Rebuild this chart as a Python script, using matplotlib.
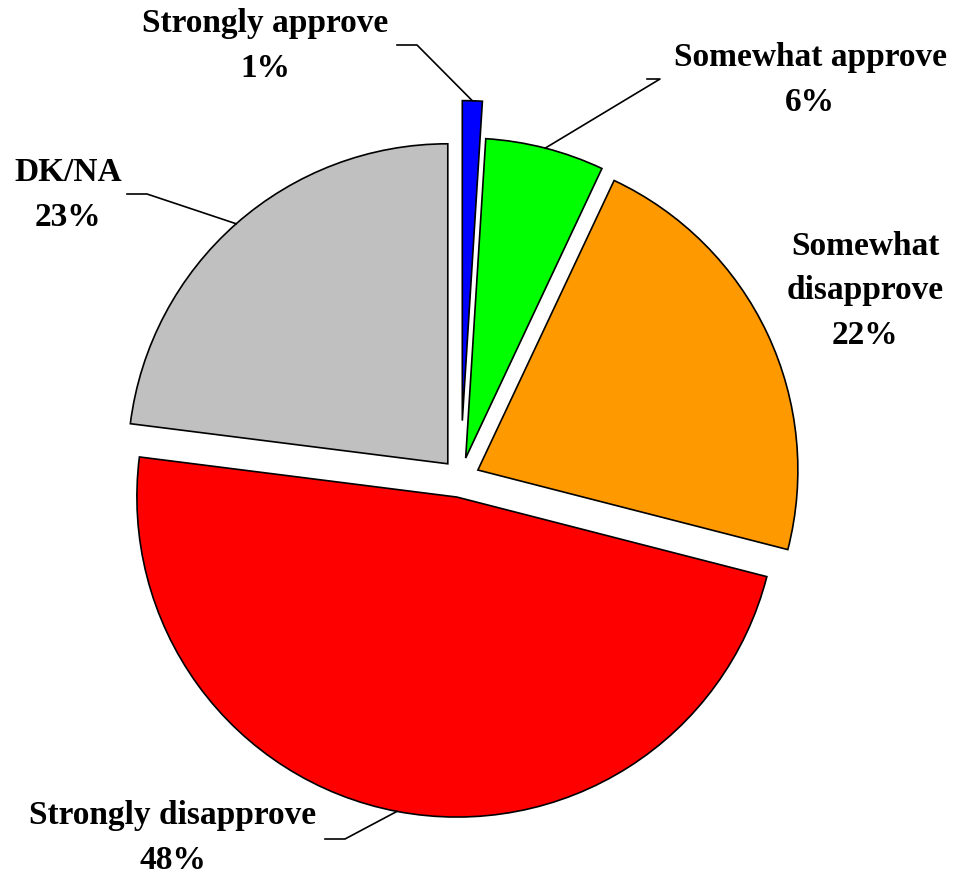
import numpy as np
import matplotlib
matplotlib.use('Agg')
import matplotlib.pyplot as plt

# Данные
categories = ['Strongly approve', 'Somewhat approve', 'Somewhat\ndisapprove',
              'Strongly disapprove', 'DK/NA']
values = [1, 6, 22, 48, 23]
colors = ['#0000FF', '#00FF00', '#FF9900', '#FF0000', '#C0C0C0']
explode = [0.18, 0.065, 0.06, 0.06, 0.06]

# Положение подписей (в пикселях картинки, y сверху вниз)
W, H = 955, 875
label_pos = [(265, 46), (810, 80), (865, 291), (173, 838), (68, 195)]
# Выноски: (x начала, x излома, y) или None
leaders = [(397, 417, 45), (647, 660, 79), None, (325, 345, 839), (127, 147, 194)]

plt.rcParams['font.family'] = ['Liberation Serif', 'DejaVu Serif']

fig = plt.figure(figsize=(W / 100, H / 100), dpi=100)
ax = fig.add_axes([0, 0, 1, 1])

radius = 320
center = (460.5, H - 478.2)
# в matplotlib explode задаётся в единицах данных, а не в долях радиуса
wedges, _ = ax.pie(values, colors=colors, explode=[e * radius for e in explode],
                   startangle=90, counterclock=False, radius=radius, center=center,
                   wedgeprops=dict(edgecolor='black', linewidth=1.2),
                   frame=True)
ax.set_xlim(0, W)
ax.set_ylim(0, H)
ax.set_aspect('equal')
ax.axis('off')

for w, cat, val, pos, ld in zip(wedges, categories, values, label_pos, leaders):
    ax.text(pos[0], H - pos[1], '%s\n%d%%' % (cat, val), ha='center', va='center',
            multialignment='center', fontsize=24, fontweight='bold', linespacing=1.55)
    if ld is None:
        continue
    mid = np.deg2rad((w.theta1 + w.theta2) / 2)
    px = w.center[0] + w.r * np.cos(mid)
    py = w.center[1] + w.r * np.sin(mid)
    x0, x1, y = ld
    ax.plot([x0, x1, px], [H - y, H - y, py], color='black', lw=1.2)

plt.savefig('out.png', dpi=100)
